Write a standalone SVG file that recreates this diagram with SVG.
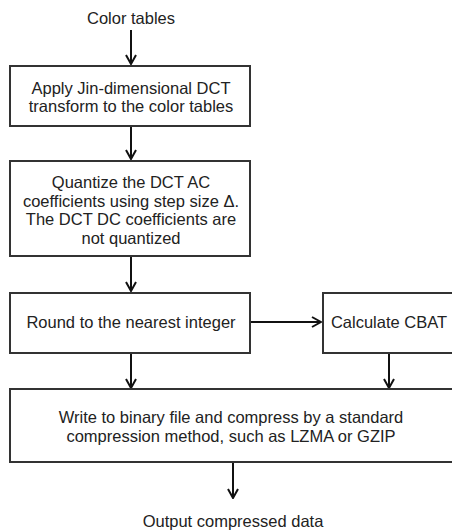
<svg xmlns="http://www.w3.org/2000/svg" width="452" height="531" viewBox="0 0 452 531">
  <style>
    .box { fill: #ffffff; stroke: #333333; stroke-width: 2; }
    .lbl { font-family: "Liberation Sans", Arial, Helvetica, sans-serif; font-size: 16.5px; fill: #222222; text-anchor: middle; }
    .edge { fill: none; stroke: #111111; stroke-width: 2; }
  </style>
  <defs>
    <marker id="arrow" viewBox="0 0 12 12" refX="11" refY="6" markerWidth="12" markerHeight="12" markerUnits="userSpaceOnUse" orient="auto">
      <polyline points="2,1 11,6 2,11" fill="none" stroke="#111111" stroke-width="2"/>
    </marker>
  </defs>
  <rect width="452" height="531" fill="#ffffff"/>

  <g id="connectors">
    <line class="edge" x1="131" y1="30" x2="131" y2="64" marker-end="url(#arrow)"/>
    <line class="edge" x1="131" y1="126" x2="131" y2="159" marker-end="url(#arrow)"/>
    <line class="edge" x1="131" y1="256" x2="131" y2="291" marker-end="url(#arrow)"/>
    <line class="edge" x1="250" y1="322" x2="321" y2="322" marker-end="url(#arrow)"/>
    <line class="edge" x1="131" y1="353" x2="131" y2="388" marker-end="url(#arrow)"/>
    <line class="edge" x1="389" y1="353" x2="389" y2="388" marker-end="url(#arrow)"/>
    <line class="edge" x1="233" y1="462" x2="233" y2="498" marker-end="url(#arrow)"/>
  </g>

  <g id="input">
    <text class="lbl" x="131" y="24">Color tables</text>
  </g>

  <g id="dct">
    <rect class="box" x="10" y="66" width="240" height="60"/>
    <text class="lbl" x="131" y="94">Apply Jin-dimensional DCT</text>
    <text class="lbl" x="131" y="112">transform to the color tables</text>
  </g>

  <g id="quantize">
    <rect class="box" x="10" y="161" width="240" height="95"/>
    <text class="lbl" x="131" y="188">Quantize the DCT AC</text>
    <text class="lbl" x="131" y="207">coefficients using step size Δ.</text>
    <text class="lbl" x="131" y="225">The DCT DC coefficients are</text>
    <text class="lbl" x="131" y="244">not quantized</text>
  </g>

  <g id="round">
    <rect class="box" x="10" y="293" width="240" height="60"/>
    <text class="lbl" x="131" y="328">Round to the nearest integer</text>
  </g>

  <g id="cbat">
    <rect class="box" x="323" y="293" width="135" height="60"/>
    <text class="lbl" x="389" y="328">Calculate CBAT</text>
  </g>

  <g id="compress">
    <rect class="box" x="10" y="389" width="448" height="73"/>
    <text class="lbl" x="231" y="423">Write to binary file and compress by a standard</text>
    <text class="lbl" x="231" y="442">compression method, such as LZMA or GZIP</text>
  </g>

  <g id="output">
    <text class="lbl" x="233" y="527">Output compressed data</text>
  </g>
</svg>
